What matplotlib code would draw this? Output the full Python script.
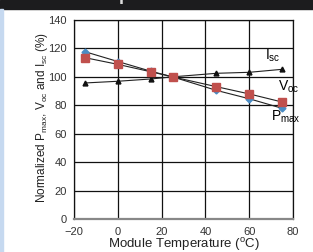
import matplotlib.pyplot as plt
from matplotlib.patches import Rectangle

# data
temps = [-15, 0, 15, 25, 45, 60, 75]
pmax = [117.7, 110.8, 104.0, 100.0, 90.5, 84.6, 77.9]
voc = [113.5, 108.8, 103.6, 100.0, 93.1, 88.0, 82.3]
isc = [95.7, 96.9, 98.5, 100.0, 102.5, 103.2, 105.3]
xticks = [-20, 0, 20, 40, 60, 80]
yticks = [0, 20, 40, 60, 80, 100, 120, 140]

plt.rcParams['font.family'] = ['Liberation Sans', 'DejaVu Sans']
plt.rcParams['mathtext.fontset'] = 'custom'
plt.rcParams['mathtext.rm'] = 'Liberation Sans'

fig = plt.figure(figsize=(3.13, 2.52), dpi=100)
fig.patch.set_facecolor('white')

# dark header band and light blue strip at the left edge
fig.patches.append(Rectangle((0, 1 - 9/252), 1, 9/252, transform=fig.transFigure,
                             color='#1c1c1e', zorder=0))
fig.patches.append(Rectangle((0, 0), 3/313, 1 - 9/252, transform=fig.transFigure,
                             color='#c6d9f0', zorder=0))
# header title, mostly cut off by the top edge as in the reference
fig.text(15/313, 1 - 0.5/252, 'Module Temperature', color='#dddddd',
         fontsize=13, fontweight='bold', va='baseline', ha='left')

ax = fig.add_axes([74/313, 1 - 219/252, 219/313, 199/252])
ax.plot(temps, isc, color='#222222', lw=0.8, marker='^', ms=3.5,
        mfc='#111111', mec='#111111', zorder=3)
ax.plot(temps, pmax, color='#222222', lw=0.8, marker='D', ms=3.5,
        mfc='#4a8cc4', mec='#4a8cc4', zorder=3)
ax.plot(temps, voc, color='#222222', lw=0.8, marker='s', ms=6,
        mfc='#c0504d', mec='#c0504d', zorder=4)

ax.set_xlim(-20, 80)
ax.set_ylim(0, 140)
ax.set_xticks(xticks)
ax.set_yticks(yticks)
ax.grid(True, color='#111111', lw=0.9)
ax.set_axisbelow(True)
ax.tick_params(length=0, labelsize=8, colors='#333333')
ax.tick_params(axis='x', pad=6)
ax.tick_params(axis='y', pad=5)
for s in ax.spines.values():
    s.set_color('#111111')
    s.set_linewidth(0.9)
ax.spines['bottom'].set_color('#888888')
ax.spines['bottom'].set_linewidth(1.6)

ax.text(67, 109, r'I$_{\mathrm{sc}}$', fontsize=10, ha='left', va='bottom')
ax.text(73, 87, r'V$_{\mathrm{oc}}$', fontsize=10, ha='left', va='bottom')
ax.text(70, 66, r'P$_{\mathrm{max}}$', fontsize=10, ha='left', va='bottom')

ax.set_xlabel(r'Module Temperature ($^{\mathrm{o}}$C)', fontsize=9.5, color='#222222')
ax.xaxis.set_label_coords(0.5, -0.085)
ax.set_ylabel(r'Normalized P$_{\mathrm{max}}$, V$_{\mathrm{oc}}$ and I$_{\mathrm{sc}}$ (%)',
              fontsize=8.5, color='#222222')
ax.yaxis.set_label_coords(-0.11, 0.51)

fig.savefig('out.png', dpi=100)
